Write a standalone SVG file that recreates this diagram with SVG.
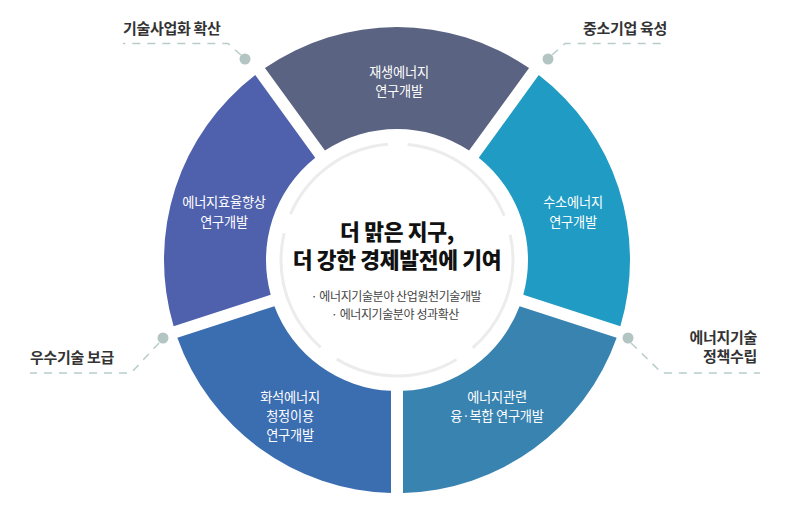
<svg xmlns="http://www.w3.org/2000/svg" width="794" height="523" viewBox="0 0 794 523">
<style>
text{font-family:"Noto Sans CJK KR","Noto Sans",sans-serif}
.seg-t{fill:#ffffff;font-size:13.2px;letter-spacing:-0.2px;text-anchor:middle}
.lbl{fill:#333333;font-size:15px;font-weight:700;letter-spacing:-0.3px}
.title{fill:#111111;font-size:21.5px;font-weight:900;letter-spacing:-0.3px;text-anchor:middle}
.sub{fill:#444444;font-size:12px;letter-spacing:-0.4px;text-anchor:middle}
.dash{fill:none;stroke:#b8cccb;stroke-width:1.5;stroke-dasharray:8 7}
.dot{fill:#b2c5c3}
</style>
<rect width="794" height="523" fill="#ffffff"/>
<g id="seg-top">
<path d="M264.95 68.04 A233 233 0 0 1 529.05 68.04 L469.07 150.6 A131 131 0 0 0 324.94 150.6 Z" fill="#5a6381"/>
<text class="seg-t" x="399" y="77">재생에너지</text>
<text class="seg-t" x="399" y="96">연구개발</text>
</g>
<g id="seg-upright">
<path d="M538.76 75.09 A233 233 0 0 1 620.38 326.27 L523.31 294.73 A131 131 0 0 0 478.77 157.66 Z" fill="#1f9bc4"/>
<text class="seg-t" x="573" y="207">수소에너지</text>
<text class="seg-t" x="573" y="227">연구개발</text>
</g>
<g id="seg-lowright">
<path d="M616.67 337.68 A233 233 0 0 1 403 492.92 L403 390.86 A131 131 0 0 0 519.6 306.15 Z" fill="#3983b1"/>
<text class="seg-t" x="497" y="402">에너지관련</text>
<text class="seg-t" x="497" y="421">융·복합 연구개발</text>
</g>
<g id="seg-lowleft">
<path d="M391 492.92 A233 233 0 0 1 177.33 337.68 L274.4 306.15 A131 131 0 0 0 391 390.86 Z" fill="#3b6db1"/>
<text class="seg-t" x="290" y="402">화석에너지</text>
<text class="seg-t" x="290" y="421">청정이용</text>
<text class="seg-t" x="290" y="440">연구개발</text>
</g>
<g id="seg-upleft">
<path d="M173.62 326.27 A233 233 0 0 1 255.24 75.09 L315.23 157.66 A131 131 0 0 0 270.69 294.73 Z" fill="#4f61ac"/>
<text class="seg-t" x="224" y="207">에너지효율향상</text>
<text class="seg-t" x="224" y="227">연구개발</text>
</g>
<g id="center">
<circle cx="397" cy="260" r="126" fill="#ffffff"/>
<circle cx="397" cy="260" r="116" fill="none" stroke="#ececec" stroke-width="3" stroke-dasharray="125.8 20" stroke-dashoffset="26.3"/>
<text class="title" x="397" y="240">더 맑은 지구,</text>
<text class="title" x="397" y="268">더 강한 경제발전에 기여</text>
<text class="sub" x="396" y="301">· 에너지기술분야 산업원천기술개발</text>
<text class="sub" x="395" y="319">· 에너지기술분야 성과확산</text>
</g>
<g id="connectors">
<polyline class="dash" points="241,55 228,43.5 123,43.5"/>
<polyline class="dash" points="552,55 565,43.5 667,43.5"/>
<polyline class="dash" points="159,343 131,373 30,373"/>
<polyline class="dash" points="631,343 662,373 760,373"/>
<circle class="dot" cx="245" cy="59" r="5.5"/>
<circle class="dot" cx="548" cy="59" r="5.5"/>
<circle class="dot" cx="163" cy="338" r="5.5"/>
<circle class="dot" cx="628" cy="338" r="5.5"/>
</g>
<g id="label-tl"><text class="lbl" x="123" y="34">기술사업화 확산</text></g>
<g id="label-tr"><text class="lbl" x="667" y="34" text-anchor="end">중소기업 육성</text></g>
<g id="label-l"><text class="lbl" x="30" y="363">우수기술 보급</text></g>
<g id="label-r">
<text class="lbl" x="757" y="343" text-anchor="end">에너지기술</text>
<text class="lbl" x="757" y="362" text-anchor="end">정책수립</text>
</g>
</svg>
